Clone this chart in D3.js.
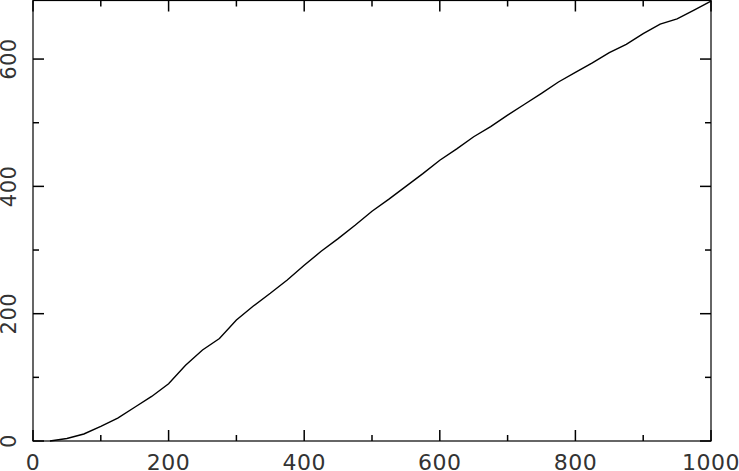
<!DOCTYPE html>
<html>
<head>
<meta charset="utf-8">
<script src="https://cdn.jsdelivr.net/npm/d3@7"></script>
<style>
  body { margin: 0; background: #fff; }
  svg { display: block; }
</style>
</head>
<body>
<div id="chart"></div>
<script>
const width = 739;
const height = 471;
const margin = { top: 0.5, right: 28, bottom: 30, left: 33 };

// curve
const xValues = [25, 50, 75, 100, 125, 150, 175, 200, 225, 250, 275, 300, 325, 350, 375, 400,
  425, 450, 475, 500, 525, 550, 575, 600, 625, 650, 675, 700, 725, 750, 775, 800,
  825, 850, 875, 900, 925, 950, 975, 1000];
const yValues = [0, 4, 11, 23, 36, 53, 70, 90, 119, 143, 161, 190, 212, 232, 253, 276,
  298, 318, 339, 361, 380, 400, 420, 441, 459, 478, 494, 512, 529, 546, 564, 579,
  594, 610, 623, 640, 655, 663, 677, 691];

const xMajor = [0, 200, 400, 600, 800, 1000];
const xMinor = [100, 300, 500, 700, 900];
const yMajor = [0, 200, 400, 600];
const yMinor = [100, 300, 500];

const data = xValues.map((v, i) => ({ x: v, y: yValues[i] }));

const svg = d3.select("#chart")
    .append("svg")
    .attr("width", width)
    .attr("height", height);

const x = d3.scaleLinear()
    .domain([0, 1000])
    .range([margin.left, width - margin.right]);

const y = d3.scaleLinear()
    .domain([0, 692])
    .range([height - margin.bottom, margin.top]);

const x0 = x.range()[0], x1 = x.range()[1];
const y0 = y.range()[0], y1 = y.range()[1];

// frame
svg.append("rect")
    .attr("x", x0)
    .attr("y", y1)
    .attr("width", x1 - x0)
    .attr("height", y0 - y1)
    .attr("fill", "none")
    .attr("stroke", "#000")
    .attr("stroke-width", 1.2);

// inward ticks on all four sides
const tickG = svg.append("g").attr("stroke", "#000").attr("stroke-width", 1.5);
function xTicks(vals, len) {
    vals.forEach(v => {
        tickG.append("line").attr("x1", x(v)).attr("x2", x(v)).attr("y1", y0).attr("y2", y0 - len);
        tickG.append("line").attr("x1", x(v)).attr("x2", x(v)).attr("y1", y1).attr("y2", y1 + len);
    });
}
function yTicks(vals, len) {
    vals.forEach(v => {
        tickG.append("line").attr("y1", y(v)).attr("y2", y(v)).attr("x1", x0).attr("x2", x0 + len);
        tickG.append("line").attr("y1", y(v)).attr("y2", y(v)).attr("x1", x1).attr("x2", x1 - len);
    });
}
xTicks(xMajor, 11);
xTicks(xMinor, 6);
yTicks(yMajor, 11);
yTicks(yMinor, 6);

// tick labels
const labelFont = "DejaVu Sans, sans-serif";

svg.append("g")
    .selectAll("text")
    .data(xMajor)
  .enter().append("text")
    .attr("x", d => x(d))
    .attr("y", 469.5)
    .attr("text-anchor", "middle")
    .attr("font-family", labelFont)
    .attr("font-size", 22)
    .attr("letter-spacing", 0.5)
    .attr("fill", "#333")
    .text(d => d);

svg.append("g")
    .selectAll("text")
    .data(yMajor)
  .enter().append("text")
    .attr("transform", d => `translate(16,${y(d)}) rotate(-90)`)
    .attr("text-anchor", "middle")
    .attr("font-family", labelFont)
    .attr("font-size", 21)
    .attr("letter-spacing", 0.5)
    .attr("fill", "#333")
    .text(d => d);

// the curve
const line = d3.line()
    .x(d => x(d.x))
    .y(d => y(d.y));

svg.append("path")
    .datum(data)
    .attr("fill", "none")
    .attr("stroke", "#000")
    .attr("stroke-width", 1.4)
    .attr("d", line);
</script>
</body>
</html>
